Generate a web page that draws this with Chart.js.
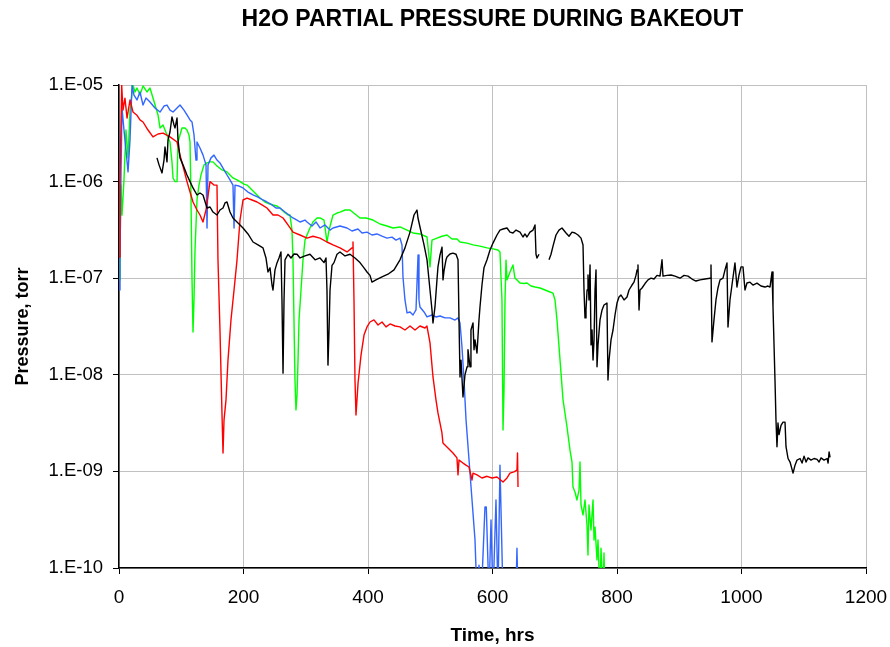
<!DOCTYPE html>
<html>
<head>
<meta charset="utf-8">
<title>H2O partial pressure during bakeout</title>
<script src="https://cdn.jsdelivr.net/npm/chart.js@4.4.1/dist/chart.umd.min.js"></script>
<style>
  html, body { margin: 0; padding: 0; background: #fff; }
  #wrap { width: 890px; height: 647px; }
</style>
</head>
<body>
<div id="wrap"><canvas id="myChart" width="890" height="647"></canvas></div>
<script>
// axis ticks
const xTicks = [0, 200, 400, 600, 800, 1000, 1200];
const yTickVals = [1e-10, 1e-9, 1e-8, 1e-7, 1e-6, 1e-5];
const yTickLabels = ['1.E-10', '1.E-09', '1.E-08', '1.E-07', '1.E-06', '1.E-05'];

// black run (hours / torr), null = no data
const blackHrs = [
  61.0, 64.3, 69.1, 72.3, 73.9, 77.1, 78.7, 81.9, 85.1, 88.4,
  90.0, 93.2, 94.8, 98.0, 102.8, 109.2, 114.1, 118.9, 125.3, 130.1,
  134.9, 141.4, 146.2, 151.0, 157.4, 162.2, 167.1, 170.3, 173.5, 178.3,
  183.1, 191.2, 199.2, 207.2, 215.3, 223.3, 231.3, 236.1, 239.3, 242.6,
  245.8, 247.4, 250.6, 253.8, 257.0, 260.2, 261.8, 263.5, 265.1, 266.7,
  271.5, 276.3, 281.1, 286.0, 290.8, 298.8, 306.8, 315.0, 322.9, 329.3,
  332.5, 334.1, 335.7, 337.4, 339.0, 342.2, 345.4, 350.2, 355.0, 363.1,
  371.1, 379.1, 387.1, 393.6, 398.4, 403.2, 406.4, 412.8, 422.5, 432.1,
  441.8, 451.4, 459.4, 467.5, 473.9, 478.7, 480.3, 483.5, 490.0, 494.8,
  499.6, 502.8, 504.4, 507.6, 510.8, 512.4, 515.7, 518.9, 520.5, 522.1,
  525.3, 526.9, 531.7, 536.5, 541.4, 544.6, 546.2, 547.8, 549.4, 552.6,
  555.8, 559.1, 560.6, 563.9, 565.4, 568.7, 570.3, 571.9, 575.1, 578.3,
  579.9, 583.1, 586.3, 591.2, 596.0, 600.8, 607.2, 612.0, 616.9, 623.3,
  628.1, 632.9, 637.8, 644.2, 649.0, 652.2, 655.4, 660.2, 665.1, 668.3,
  669.9, 671.5, 674.7, 682.0, 690.8, 694.0, 697.2, 702.0, 706.8, 711.6,
  718.1, 722.9, 727.7, 732.5, 737.4, 742.2, 745.4, 747.0, 748.6, 750.2,
  751.9, 753.4, 755.0, 756.7, 758.3, 759.9, 761.5, 763.1, 764.7, 766.3,
  767.9, 769.5, 772.7, 776.0, 779.1, 783.9, 785.5, 787.2, 790.4, 793.6,
  796.8, 800.0, 803.2, 806.4, 811.3, 816.1, 819.3, 824.1, 827.3, 830.5,
  832.2, 833.7, 835.4, 837.0, 840.2, 845.0, 849.8, 854.6, 859.5, 864.3,
  869.1, 872.3, 873.9, 880.3, 886.8, 893.2, 901.2, 907.7, 914.1, 920.5,
  926.9, 933.4, 941.4, 949.4, 951.0, 952.6, 955.8, 959.0, 962.2, 965.5,
  970.3, 973.5, 976.7, 978.3, 981.5, 984.7, 989.5, 992.7, 996.0, 999.2,
  1002.4, 1005.6, 1008.8, 1013.6, 1018.4, 1024.9, 1031.3, 1037.7, 1042.5, 1045.8,
  1049.0, 1050.6, 1053.8, 1055.4, 1057.0, 1058.6, 1060.3, 1063.5, 1066.7, 1069.9,
  1071.5, 1074.8, 1078.0, 1082.8, 1086.0, 1089.2, 1094.0, 1097.3, 1100.5, 1103.7,
  1106.9, 1111.7, 1116.5, 1121.4, 1124.6, 1127.8, 1132.6, 1137.5, 1139.1, 1140.7,
  1142.3
];
const blackTorr = [
  1.76e-6, 1.49e-6, 1.23e-6, 1.67e-6, 2.28e-6, 1.6e-6, 2.7e-6, 3.26e-6, 4.67e-6, 3.85e-6,
  3.59e-6, 4.55e-6, 2.7e-6, 1.76e-6, 1.49e-6, 1.17e-6, 1.0e-6, 8.6e-7, 7.27e-7, 7.62e-7,
  7.27e-7, 5.33e-7, 5.46e-7, 4.84e-7, 4.51e-7, 5.08e-7, 5.33e-7, 6.01e-7, 6.15e-7, 4.84e-7,
  4.2e-7, 3.73e-7, 3.31e-7, 2.87e-7, 2.37e-7, 2.21e-7, 2.06e-7, 1.62e-7, 1.16e-7, 1.28e-7,
  8.5e-8, 7.55e-8, 1.22e-7, 1.44e-7, 1.62e-7, 1.87e-7, 5.95e-8, 1.04e-8, 5.95e-8, 1.55e-7,
  1.77e-7, 1.62e-7, 1.78e-7, 1.77e-7, 1.62e-7, 1.7e-7, 1.77e-7, 1.55e-7, 1.62e-7, 1.45e-7,
  1.62e-7, 7.55e-8, 1.26e-8, 2.91e-8, 7.55e-8, 1.36e-7, 1.45e-7, 1.77e-7, 1.87e-7, 1.7e-7,
  1.77e-7, 1.62e-7, 1.45e-7, 1.28e-7, 1.16e-7, 1.07e-7, 9.1e-8, 9.6e-8, 1.03e-7, 1.1e-7,
  1.22e-7, 1.55e-7, 2.06e-7, 3.0e-7, 4.51e-7, 5.08e-7, 4.2e-7, 3.39e-7, 2.21e-7, 1.55e-7,
  7.55e-8, 4.69e-8, 3.44e-8, 5.04e-8, 9.6e-8, 1.31e-7, 1.74e-7, 2.1e-7, 9.6e-8, 1.19e-7,
  1.55e-7, 1.66e-7, 1.78e-7, 1.82e-7, 1.77e-7, 1.55e-7, 3.7e-8, 9.5e-9, 1.42e-8, 5.89e-9,
  1.0e-8, 1.21e-8, 1.82e-8, 1.21e-8, 2.91e-8, 3.44e-8, 1.82e-8, 2.3e-8, 1.68e-8, 3.7e-8,
  5.04e-8, 8.5e-8, 1.28e-7, 1.55e-7, 1.96e-7, 2.31e-7, 2.8e-7, 3.15e-7, 3.23e-7, 3.31e-7,
  3.0e-7, 2.94e-7, 3.15e-7, 3.0e-7, 2.67e-7, 2.87e-7, 2.67e-7, 3.0e-7, 3.15e-7, 3.56e-7,
  1.77e-7, 1.62e-7, 1.77e-7, null, 1.55e-7, 1.77e-7, 2.15e-7, 2.8e-7, 3.15e-7, 3.31e-7,
  2.94e-7, 2.72e-7, 3.0e-7, 2.94e-7, 2.8e-7, 2.6e-7, 2.21e-7, 7.55e-8, 3.88e-8, 4.69e-8,
  7.55e-8, 1.08e-7, 5.95e-8, 1.37e-7, 2.04e-8, 2.91e-8, 1.42e-8, 2.3e-8, 7.55e-8, 1.22e-7,
  1.21e-8, 2.04e-8, 3.7e-8, 4.69e-8, 5.28e-8, 5.53e-8, 8.83e-9, 1.42e-8, 2.3e-8, 2.91e-8,
  4.16e-8, 5.53e-8, 6.39e-8, 6.7e-8, 5.95e-8, 6.39e-8, 7.55e-8, 8.5e-8, 9.1e-8, 1.07e-7,
  1.22e-7, 1.37e-7, 4.69e-8, 7.55e-8, 7.92e-8, 8.8e-8, 9.6e-8, 1.0e-7, 9.8e-8, 1.07e-7,
  1.05e-7, 1.55e-7, 1.05e-7, 1.07e-7, 1.08e-7, 1.05e-7, 1.0e-7, 1.07e-7, 1.05e-7, 9.8e-8,
  9.35e-8, 9.6e-8, 9.8e-8, 1.0e-7, 1.37e-7, 2.19e-8, 3.7e-8, 5.95e-8, 7.92e-8, 9.6e-8,
  1.0e-7, 1.22e-7, 1.44e-7, 3.13e-8, 5.95e-8, 8.5e-8, 1.44e-7, 8.1e-8, 1.08e-7, 1.31e-7,
  1.31e-7, 7.55e-8, 8.91e-8, 9.1e-8, 8.5e-8, 8.9e-8, 8.3e-8, 8.1e-8, 8.3e-8, 8.1e-8,
  1.16e-7, 5.04e-8, 8.83e-9, 3.4e-9, 1.8e-9, 3.17e-9, 2.4e-9, 3.0e-9, 3.24e-9, 3.24e-9,
  1.8e-9, 1.36e-9, 1.25e-9, 9.6e-10, 1.16e-9, 1.31e-9, 1.36e-9, 1.22e-9, 1.44e-9, 1.25e-9,
  1.38e-9, 1.31e-9, 1.36e-9, 1.33e-9, 1.25e-9, 1.38e-9, 1.31e-9, 1.36e-9, 1.22e-9, 1.59e-9,
  1.4e-9
];

// red run
const redHrs = [
  0, 1.6, 4.3, 6.4, 9.6, 12.9, 17.7, 22.5, 28.4, 33.7,
  38.6, 46.6, 54.6, 62.7, 70.7, 81.9, 93.2, 98.0, 104.4, 109.2,
  114.1, 118.9, 125.3, 130.1, 134.9, 139.8, 146.2, 152.6, 157.4, 159.0,
  162.2, 165.5, 167.1, 168.7, 171.9, 175.1, 179.9, 184.8, 189.6, 194.4,
  199.2, 205.7, 213.7, 221.8, 229.7, 237.7, 247.4, 255.4, 263.5, 271.5,
  279.5, 290.8, 302.0, 311.6, 322.9, 334.1, 343.8, 355.0, 366.3, 374.3,
  375.9, 377.5, 379.1, 380.7, 382.3, 384.0, 388.8, 393.6, 398.4, 403.2,
  409.6, 416.1, 422.5, 428.9, 435.4, 443.4, 451.4, 459.4, 467.5, 475.5,
  483.5, 491.5, 494.7, 499.6, 504.4, 509.2, 512.4, 518.8, 520.4, 528.5,
  536.5, 542.9, 544.6, 546.2, 552.6, 557.4, 562.2, 567.1, 568.7, 575.1,
  583.1, 591.2, 599.2, 607.2, 616.9, 623.3, 628.1, 634.5, 639.3, 640.2,
  641.0
];
const redTorr = [
  1.66e-7, 1.04e-6, 1.0e-5, 5.5e-6, 7.3e-6, 4.55e-6, 7.0e-6, 5.25e-6, 4.9e-6, 4.35e-6,
  4.14e-6, 3.42e-6, 2.9e-6, 3.11e-6, 3.18e-6, 2.9e-6, 2.57e-6, 1.88e-6, 1.32e-6, 1.0e-6,
  7.8e-7, 6.15e-7, 5.08e-7, 4.51e-7, 3.82e-7, 5.1e-7, 1.0e-6, 9.2e-7, 9.2e-7, 1.55e-7,
  2.91e-8, 3.84e-9, 1.55e-9, 3.4e-9, 5.5e-9, 1.42e-8, 3.7e-8, 7.55e-8, 1.55e-7, 4.0e-7,
  6.45e-7, 6.76e-7, 6.45e-7, 6.15e-7, 5.73e-7, 5.33e-7, 4.51e-7, 4.51e-7, 4.2e-7, 3.56e-7,
  3.0e-7, 2.8e-7, 2.6e-7, 2.72e-7, 2.6e-7, 2.37e-7, 2.21e-7, 2.06e-7, 1.87e-7, 2.06e-7,
  2.37e-7, 5.95e-8, 8.83e-9, 3.84e-9, 5.5e-9, 8.2e-9, 1.6e-8, 2.58e-8, 3.13e-8, 3.52e-8,
  3.7e-8, 3.28e-8, 3.52e-8, 3.13e-8, 3.36e-8, 3.2e-8, 3.13e-8, 2.91e-8, 3.2e-8, 2.91e-8,
  3.2e-8, 3.05e-8, 3.2e-8, 2.14e-8, 9.5e-9, 5.5e-9, 4.03e-9, 2.5e-9, 1.97e-9, 1.75e-9,
  1.55e-9, 1.38e-9, 9.2e-10, 1.31e-9, 1.22e-9, 1.16e-9, 1.11e-9, 8.15e-10, 9.6e-10, 9.2e-10,
  8.55e-10, 8.9e-10, 8.55e-10, 8.75e-10, 7.76e-10, 8.55e-10, 9.6e-10, 9.9e-10, 1.03e-9, 1.55e-9,
  6.9e-10
];

// blue run (values under 1e-10 run off the bottom)
const blueHrs = [
  0, 1.6, 3.2, 4.8, 8.0, 11.2, 14.5, 17.7, 20.9, 24.1,
  28.9, 33.7, 38.6, 43.4, 49.8, 57.8, 65.9, 72.3, 77.1, 81.9,
  86.8, 93.2, 98.0, 104.4, 109.2, 114.1, 117.3, 120.5, 123.7, 125.3,
  130.1, 135.0, 139.8, 141.4, 143.0, 147.8, 152.6, 157.4, 162.2, 168.7,
  173.5, 178.3, 183.1, 184.8, 186.4, 192.8, 199.2, 207.2, 215.3, 223.3,
  231.3, 237.7, 245.8, 252.2, 258.6, 266.7, 273.1, 279.5, 285.9, 290.8,
  298.8, 302.0, 310.0, 316.5, 322.9, 330.9, 339.0, 343.8, 355.0, 366.3,
  374.3, 383.9, 390.4, 398.4, 406.4, 414.4, 422.5, 430.5, 438.6, 445.0,
  451.4, 454.6, 456.2, 459.4, 462.7, 467.5, 472.3, 477.1, 480.4, 481.9,
  483.5, 490.0, 494.8, 502.8, 509.2, 515.7, 523.7, 531.7, 539.8, 544.6,
  547.8, 551.0, 554.2, 557.5, 562.3, 567.1, 571.9, 575.1, 578.3, 582.0,
  587.9, 590.0, 594.4, 597.6, 600.8, 605.6, 608.8, 612.0, 616.9, 637.5,
  639.3, 641.0
];
const blueTorr = [
  7.55e-8, 1.55e-7, 1.17e-6, 5.78e-6, 3.42e-6, 2.12e-6, 1.26e-6, 2.7e-6, 1.0e-5, 7.87e-6,
  7.0e-6, 8.47e-6, 6.2e-6, 7.33e-6, 6.67e-6, 5.78e-6, 5.25e-6, 6.06e-6, 6.2e-6, 5.5e-6,
  5.25e-6, 5.78e-6, 6.2e-6, 5.5e-6, 4.9e-6, 4.35e-6, 4.14e-6, 3.04e-6, 1.67e-6, 2.57e-6,
  2.23e-6, 1.88e-6, 1.49e-6, 3.31e-7, 1.49e-6, 1.76e-6, 1.88e-6, 1.67e-6, 1.56e-6, 1.32e-6,
  1.17e-6, 1.04e-6, 9.2e-7, 3.31e-7, 9.2e-7, 9.0e-7, 8.6e-7, 7.8e-7, 7.27e-7, 6.92e-7,
  6.45e-7, 6.15e-7, 5.73e-7, 5.33e-7, 5.33e-7, 4.84e-7, 4.51e-7, 4.2e-7, 4.0e-7, 3.82e-7,
  4.0e-7, 3.82e-7, 3.47e-7, 3.82e-7, 3.31e-7, 3.56e-7, 3.15e-7, 3.31e-7, 3.47e-7, 3.31e-7,
  3.08e-7, 3.23e-7, 2.94e-7, 3.0e-7, 2.8e-7, 2.87e-7, 2.72e-7, 2.6e-7, 2.66e-7, 2.48e-7,
  2.6e-7, 2.21e-7, 1.03e-7, 5.95e-8, 4.37e-8, 4.47e-8, 4.16e-8, 4.69e-8, 1.74e-7, 5.95e-8,
  5.04e-8, 4.47e-8, 3.97e-8, 4.16e-8, 3.97e-8, 4.06e-8, 3.88e-8, 3.88e-8, 3.69e-8, 3.88e-8,
  3.44e-8, 1.94e-8, 8.83e-9, 3.4e-9, 1.31e-9, 5.06e-10, 1.95e-10, 5e-11, 1.07e-10, 5e-11,
  4.28e-10, 4.28e-10, 5e-11, 3.14e-10, 5e-11, 5.06e-10, 5e-11, 1.16e-9, 5e-11, 5e-11,
  1.6e-10, 5e-11
];

// green run
const greenHrs = [
  0, 1.6, 3.2, 4.8, 8.0, 11.2, 14.5, 17.7, 22.5, 25.7,
  28.9, 33.7, 38.6, 45.0, 49.8, 54.6, 59.4, 62.7, 65.9, 70.7,
  77.1, 81.9, 85.1, 86.8, 90.0, 93.2, 94.8, 98.0, 101.2, 106.0,
  109.2, 112.4, 114.1, 115.7, 117.3, 118.9, 120.5, 122.1, 125.3, 128.5,
  131.7, 136.6, 141.4, 146.2, 151.0, 157.4, 165.5, 173.5, 183.1, 189.6,
  194.4, 200.8, 205.7, 213.7, 220.1, 226.5, 234.5, 242.6, 247.4, 253.8,
  258.6, 265.1, 271.5, 274.7, 277.9, 279.5, 281.1, 282.7, 284.3, 286.0,
  287.6, 289.2, 292.4, 295.6, 298.8, 302.0, 306.8, 311.6, 318.1, 322.9,
  329.3, 334.1, 337.4, 343.8, 350.2, 355.0, 363.1, 371.1, 379.1, 387.1,
  396.8, 408.0, 419.3, 430.5, 440.1, 451.4, 462.7, 472.3, 483.5, 494.8,
  499.6, 502.8, 510.8, 518.9, 526.9, 534.9, 543.0, 547.8, 559.0, 568.7,
  579.9, 591.2, 600.8, 608.8, 612.0, 615.2, 616.9, 618.5, 620.1, 621.7,
  623.3, 628.1, 632.9, 636.1, 639.4, 644.2, 650.6, 655.4, 661.8, 668.3,
  676.3, 684.4, 692.4, 697.2, 700.4, 703.6, 708.5, 713.3, 719.7, 724.5,
  727.7, 729.3, 732.5, 735.7, 739.0, 740.6, 742.2, 745.4, 748.6, 751.8,
  753.4, 755.0, 758.2, 761.5, 763.1, 764.7, 767.9, 769.5, 772.7, 774.3,
  777.5, 779.1, 780.7
];
const greenTorr = [
  9.6e-8, 1.96e-7, 9.2e-7, 4.5e-7, 1.04e-6, 3.42e-6, 1.76e-6, 5.5e-6, 1.0e-5, 8.47e-6,
  9.3e-6, 7.87e-6, 9.8e-6, 8.47e-6, 9.3e-6, 7.33e-6, 5.78e-6, 4.9e-6, 3.59e-6, 3.85e-6,
  3.04e-6, 2.57e-6, 1.6e-6, 1.09e-6, 1.0e-6, 1.0e-6, 2.57e-6, 3.04e-6, 3.59e-6, 3.59e-6,
  3.42e-6, 3.04e-6, 2.57e-6, 6.45e-7, 9.6e-8, 2.77e-8, 5.95e-8, 1.96e-7, 6.45e-7, 9.2e-7,
  1.17e-6, 1.49e-6, 1.56e-6, 1.6e-6, 1.6e-6, 1.45e-6, 1.32e-6, 1.26e-6, 1.09e-6, 1.04e-6,
  1.0e-6, 9.4e-7, 9.2e-7, 8.18e-7, 7.45e-7, 6.76e-7, 6.15e-7, 5.86e-7, 5.73e-7, 5.59e-7,
  5.33e-7, 4.84e-7, 4.51e-7, 4.51e-7, 3.15e-7, 1.55e-7, 3.7e-8, 8.83e-9, 4.33e-9, 6.18e-9,
  1.42e-8, 3.7e-8, 7.55e-8, 1.55e-7, 2.48e-7, 2.8e-7, 3.31e-7, 3.82e-7, 4.2e-7, 4.2e-7,
  4.0e-7, 2.37e-7, 3.15e-7, 4.51e-7, 4.73e-7, 4.84e-7, 5.08e-7, 5.08e-7, 4.62e-7, 4.2e-7,
  4.2e-7, 4.0e-7, 3.64e-7, 3.47e-7, 3.31e-7, 3.39e-7, 3.15e-7, 2.94e-7, 2.87e-7, 2.67e-7,
  1.31e-7, 2.48e-7, 2.6e-7, 2.72e-7, 2.8e-7, 2.55e-7, 2.55e-7, 2.37e-7, 2.31e-7, 2.21e-7,
  2.15e-7, 2.06e-7, 2.01e-7, 1.96e-7, 1.87e-7, 5.95e-8, 2.68e-9, 6.97e-9, 5.95e-8, 1.54e-7,
  9.6e-8, 1.16e-7, 1.37e-7, 1.0e-7, 9.6e-8, 8.91e-8, 8.8e-8, 8.91e-8, 8.3e-8, 8.1e-8,
  7.92e-8, 7.55e-8, 7.2e-8, 7.0e-8, 5.95e-8, 3.7e-8, 1.42e-8, 5.5e-9, 2.88e-9, 1.66e-9,
  1.25e-9, 6.9e-10, 6.12e-10, 5.06e-10, 6.41e-10, 1.25e-9, 4.49e-10, 3.54e-10, 5.06e-10, 2.79e-10,
  1.36e-10, 4.49e-10, 2.47e-10, 5.06e-10, 1.95e-10, 2.65e-10, 1.21e-10, 1.95e-10, 5e-11, 1.6e-10,
  5e-11, 1.43e-10, 5e-11
];

const FONT = "'Liberation Sans', Arial, sans-serif";

function toPoints(hrs, torr){
    return hrs.map((h, i) => ({x: h, y: torr[i]}));
}

function makeSet(label, hrs, torr, color){
    return {
        label: label,
        data: toPoints(hrs, torr),
        borderColor: color,
        backgroundColor: color,
        borderWidth: 1.4,
        borderJoinStyle: 'round',
        pointRadius: 0,
        tension: 0,
        spanGaps: false,
    };
}

const ctx = document.getElementById('myChart').getContext('2d');
new Chart(ctx, {
    type: 'line',
    data: {
        datasets: [
            makeSet('black', blackHrs, blackTorr, '#000000'),
            makeSet('red', redHrs, redTorr, '#ff0000'),
            makeSet('blue', blueHrs, blueTorr, '#3366ff'),
            makeSet('green', greenHrs, greenTorr, '#00ff00'),
        ]
    },
    options: {
        responsive: false,
        animation: false,
        layout: { padding: { left: 0, right: 24, top: 0, bottom: 0 } },
        plugins: {
            legend: { display: false },
            tooltip: { enabled: false },
            title: {
                display: true,
                text: 'H2O PARTIAL PRESSURE DURING BAKEOUT',
                fullSize: false,
                color: '#000',
                font: { family: FONT, size: 23, weight: 'bold' },
                padding: { top: 6, bottom: 51.4 }
            }
        },
        scales: {
            x: {
                type: 'linear',
                min: 0,
                max: 1200,
                afterBuildTicks: (scale) => { scale.ticks = xTicks.map(v => ({value: v})); },
                afterFit: (scale) => {
                    scale.height = 79;
                    scale.paddingLeft = 0;
                    scale.paddingRight = 0;
                },
                ticks: {
                    color: '#000',
                    font: { family: FONT, size: 19 },
                    padding: 12,
                    maxRotation: 0,
                    autoSkip: false,
                    callback: (value) => String(value)
                },
                grid: { color: '#c0c0c0', lineWidth: 1, tickColor: '#000', tickLength: 6 },
                border: { display: true, color: '#000', width: 1.5 },
                title: {
                    display: true,
                    text: 'Time, hrs',
                    color: '#000',
                    font: { family: FONT, size: 19, weight: 'bold' },
                    padding: { top: 3, bottom: 0 }
                }
            },
            y: {
                type: 'logarithmic',
                min: 1e-10,
                max: 1e-5,
                afterBuildTicks: (scale) => { scale.ticks = yTickVals.map(v => ({value: v})); },
                afterFit: (scale) => {
                    scale.width = 119;
                    scale.paddingTop = 0;
                    scale.paddingBottom = 0;
                },
                ticks: {
                    color: '#000',
                    font: { family: FONT, size: 18.5 },
                    padding: 10,
                    autoSkip: false,
                    callback: (value) => {
                        const i = yTickVals.findIndex(v => Math.abs(Math.log10(v) - Math.log10(value)) < 1e-6);
                        return i >= 0 ? yTickLabels[i] : '';
                    }
                },
                grid: { color: '#c0c0c0', lineWidth: 1, tickColor: '#000', tickLength: 6 },
                border: { display: true, color: '#000', width: 1.5 },
                title: {
                    display: true,
                    text: 'Pressure, torr',
                    color: '#000',
                    font: { family: FONT, size: 18, weight: 'bold' },
                    padding: { top: 12, bottom: 0 }
                }
            }
        }
    }
});
</script>
</body>
</html>
